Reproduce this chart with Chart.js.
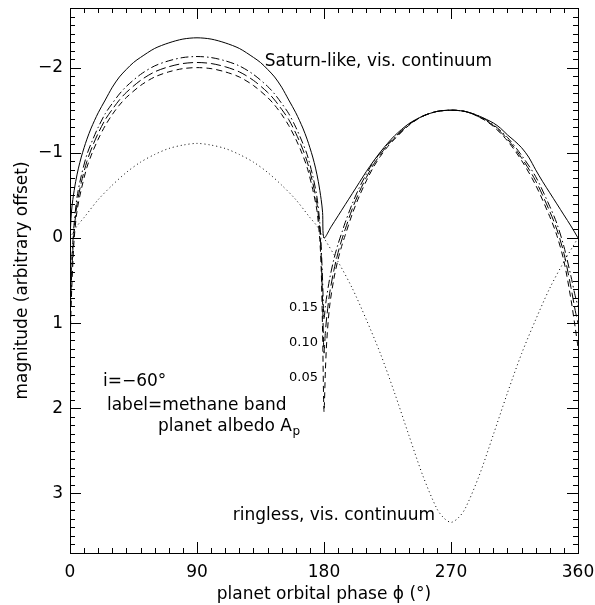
<!DOCTYPE html>
<html>
<head>
<meta charset="utf-8">
<script src="https://cdn.jsdelivr.net/npm/chart.js@4/dist/chart.umd.min.js"></script>
<style>
html,body{margin:0;padding:0;background:#fff;}
#wrap{width:595px;height:605px;}
</style>
</head>
<body>
<div id="wrap"><canvas id="c" width="595" height="605"></canvas></div>
<script>
// ---- data ----
const xTicks = [0, 90, 180, 270, 360];
const yTicks = [-2, -1, 0, 1, 2, 3];

const solidPhase = [0,1,2,4,6,8,10,12,15,20,25,30,35,40,45,50,60,70,80,90,100,110,120,130,135,140,145,150,155,160,165,168,170,172,174,176,178,179,180,185,190,195,200,205,210,215,220,225,230,240,250,260,270,280,290,300,305,310,315,320,325,330,335,340,345,350,355,360];
const solidMag = [0,-0.3,-0.45,-0.66,-0.82,-0.95,-1.06,-1.16,-1.29,-1.47,-1.62,-1.77,-1.89,-1.98,-2.06,-2.12,-2.225,-2.29,-2.335,-2.35,-2.335,-2.29,-2.225,-2.12,-2.06,-1.98,-1.89,-1.77,-1.62,-1.47,-1.29,-1.16,-1.06,-0.95,-0.82,-0.66,-0.45,-0.3,0,
  -0.13,-0.26,-0.39,-0.52,-0.65,-0.78,-0.90,-1.01,-1.11,-1.20,-1.34,-1.43,-1.485,-1.50,-1.485,-1.43,-1.35,-1.29,-1.21,-1.14,-1.06,-0.95,-0.80,-0.66,-0.53,-0.40,-0.27,-0.14,0];

const ringlessPhase = [0,5,10,20,30,40,50,60,70,80,90,100,110,120,130,140,150,160,170,175,180,190,200,210,220,230,240,250,260,265,270,275,280,290,300,310,320,330,340,350,360];
const ringlessMag = [0,-0.14,-0.24,-0.45,-0.62,-0.77,-0.89,-0.98,-1.05,-1.09,-1.11,-1.09,-1.05,-0.98,-0.89,-0.77,-0.62,-0.45,-0.24,-0.14,0,
  0.28,0.59,0.96,1.36,1.82,2.31,2.79,3.18,3.29,3.34,3.29,3.18,2.79,2.31,1.82,1.36,0.96,0.59,0.28,0];

const methanePhase = [0,1,2,3,5,8,12,16,20,25,30,35,40,50,60,70,80,90,100,110,120,130,140,145,150,155,160,164,168,172,175,177,178,179,180,
  181,182,184,187,190,193,195,200,205,210,215,220,225,230,240,250,260,270,280,290,300,310,320,330,340,345,350,355,358,360];
const albedo015 = [0.80,0.35,0.05,-0.18,-0.48,-0.73,-0.98,-1.15,-1.30,-1.46,-1.58,-1.69,-1.78,-1.92,-2.02,-2.08,-2.118,-2.13,-2.118,-2.08,-2.02,-1.92,-1.78,-1.69,-1.58,-1.46,-1.30,-1.15,-0.98,-0.73,-0.48,-0.18,0.10,0.50,0.95,
  0.80,0.68,0.48,0.25,0.07,-0.08,-0.18,-0.40,-0.59,-0.75,-0.89,-1.00,-1.10,-1.18,-1.33,-1.43,-1.485,-1.50,-1.485,-1.43,-1.33,-1.18,-0.97,-0.72,-0.37,-0.17,0.10,0.45,0.68,0.80];
const albedo010 = [1.00,0.50,0.15,-0.10,-0.40,-0.65,-0.90,-1.08,-1.23,-1.39,-1.51,-1.62,-1.71,-1.85,-1.95,-2.01,-2.048,-2.06,-2.048,-2.01,-1.95,-1.85,-1.71,-1.62,-1.51,-1.39,-1.23,-1.08,-0.90,-0.65,-0.40,-0.10,0.20,0.75,1.35,
  1.10,0.92,0.65,0.38,0.17,0.0,-0.10,-0.34,-0.54,-0.71,-0.86,-0.98,-1.09,-1.17,-1.33,-1.43,-1.485,-1.50,-1.485,-1.42,-1.32,-1.16,-0.94,-0.67,-0.31,-0.10,0.18,0.58,0.85,1.00];
const albedo005 = [1.28,0.70,0.30,0.0,-0.32,-0.57,-0.83,-1.01,-1.16,-1.32,-1.45,-1.56,-1.65,-1.79,-1.89,-1.95,-1.988,-2.00,-1.988,-1.95,-1.89,-1.79,-1.65,-1.56,-1.45,-1.32,-1.16,-1.01,-0.83,-0.57,-0.32,0.02,0.35,1.10,2.04,
  1.55,1.20,0.80,0.48,0.25,0.07,-0.03,-0.28,-0.49,-0.67,-0.83,-0.96,-1.07,-1.16,-1.32,-1.43,-1.485,-1.50,-1.485,-1.42,-1.31,-1.14,-0.91,-0.62,-0.25,-0.03,0.27,0.72,1.05,1.28];

function pts(xs, ys){ return xs.map((x,i)=>({x:x, y:ys[i]})); }
const FAM = '"DejaVu Sans", sans-serif';
const FS = 17;
const minus = v => (v < 0 ? '\u2212' + Math.abs(v) : String(v));

const overlay = {
  id: 'overlay',
  afterDatasetsDraw(chart){
    const ctx = chart.ctx, a = chart.chartArea;
    const xs = chart.scales.x, ys = chart.scales.y;
    ctx.save();
    ctx.strokeStyle = '#000';
    ctx.lineWidth = 1;
    ctx.strokeRect(Math.round(a.left)+0.5, Math.round(a.top)+0.5, Math.round(a.right-a.left), Math.round(a.bottom-a.top));
    ctx.beginPath();
    for (let v = 0; v <= 360; v += 10){
      const px = Math.round(xs.getPixelForValue(v)) + 0.5;
      const L = (v % 90 === 0) ? 11 : 5;
      ctx.moveTo(px, a.bottom); ctx.lineTo(px, a.bottom - L);
      ctx.moveTo(px, a.top); ctx.lineTo(px, a.top + L);
    }
    for (let k = -27; k <= 37; k++){
      const v = k / 10;
      const py = Math.round(ys.getPixelForValue(v)) + 0.5;
      const L = (k % 10 === 0) ? 11 : 5;
      ctx.moveTo(a.left, py); ctx.lineTo(a.left + L, py);
      ctx.moveTo(a.right, py); ctx.lineTo(a.right - L, py);
    }
    ctx.stroke();

    ctx.fillStyle = '#000';
    ctx.font = FS + 'px ' + FAM;
    ctx.textBaseline = 'alphabetic';
    ctx.textAlign = 'left';
    const P = (x,y)=>[xs.getPixelForValue(x), ys.getPixelForValue(y)];
    let p = P(138, -2.02); ctx.fillText('Saturn-like, vis. continuum', p[0], p[1]);
    ctx.textAlign = 'right';
    p = P(258.7, 3.31); ctx.fillText('ringless, vis. continuum', p[0], p[1]);
    ctx.textAlign = 'left';
    p = P(23.4, 1.74); ctx.fillText('i=\u221260\u00b0', p[0], p[1]);
    p = P(26.2, 2.02); ctx.fillText('label=methane band', p[0], p[1]);
    p = P(62.4, 2.27); ctx.fillText('planet albedo A', p[0], p[1]);
    const w = ctx.measureText('planet albedo A').width;
    ctx.font = '12px ' + FAM;
    ctx.fillText('p', p[0] + w + 0.5, p[1] + 4);
    ctx.font = '13px ' + FAM;
    ctx.textAlign = 'right';
    ctx.textBaseline = 'middle';
    p = P(175.7, 0.82); ctx.fillText('0.15', p[0], p[1]);
    p = P(175.7, 1.23); ctx.fillText('0.10', p[0], p[1]);
    p = P(175.7, 1.64); ctx.fillText('0.05', p[0], p[1]);
    ctx.restore();
  }
};

const common = { borderColor:'#000', borderWidth:1, pointRadius:0, fill:false, tension:0.3 };
const zeroPad = s => { s.paddingTop = 0; s.paddingBottom = 0; s.paddingLeft = 0; s.paddingRight = 0; };

new Chart(document.getElementById('c'), {
  type: 'line',
  data: {
    datasets: [
      Object.assign({ label:'Saturn-like, vis. continuum', data: pts(solidPhase, solidMag) }, common),
      Object.assign({ label:'ringless, vis. continuum', data: pts(ringlessPhase, ringlessMag), borderDash:[1,3] }, common),
      Object.assign({ label:'0.15', data: pts(methanePhase, albedo015), borderDash:[8,3,1.5,3] }, common),
      Object.assign({ label:'0.10', data: pts(methanePhase, albedo010), borderDash:[10,4] }, common),
      Object.assign({ label:'0.05', data: pts(methanePhase, albedo005), borderDash:[6,4] }, common)
    ]
  },
  options: {
    responsive: false,
    devicePixelRatio: 1,
    animation: false,
    layout: { padding: { top: 8, right: 17, left: 0, bottom: 0 } },
    plugins: { legend: { display:false }, tooltip: { enabled:false } },
    scales: {
      x: {
        type: 'linear', min: 0, max: 360,
        grid: { display:false, drawTicks:false },
        border: { display:false },
        afterBuildTicks: s => { s.ticks = xTicks.map(v=>({value:v})); },
        afterFit: s => { s.height = 52; zeroPad(s); },
        ticks: { color:'#000', padding: 9, maxRotation:0, font:{ family: FAM, size:FS } },
        title: { display:true, text:'planet orbital phase \u03d5 (\u00b0)', color:'#000', font:{ family: FAM, size:FS }, padding:{ top:0, bottom:0 } }
      },
      y: {
        type: 'linear', min: -2.7, max: 3.7, reverse: true,
        grid: { display:false, drawTicks:false },
        border: { display:false },
        afterBuildTicks: s => { s.ticks = yTicks.map(v=>({value:v})); },
        afterFit: s => { s.width = 70; zeroPad(s); },
        ticks: { color:'#000', padding: 7, font:{ family: FAM, size:FS }, callback: v => minus(v) },
        title: { display:true, text:'magnitude (arbitrary offset)', color:'#000', font:{ family: FAM, size:FS }, padding:{ top:12, bottom:0 } }
      }
    }
  },
  plugins: [overlay]
});
</script>
</body>
</html>
